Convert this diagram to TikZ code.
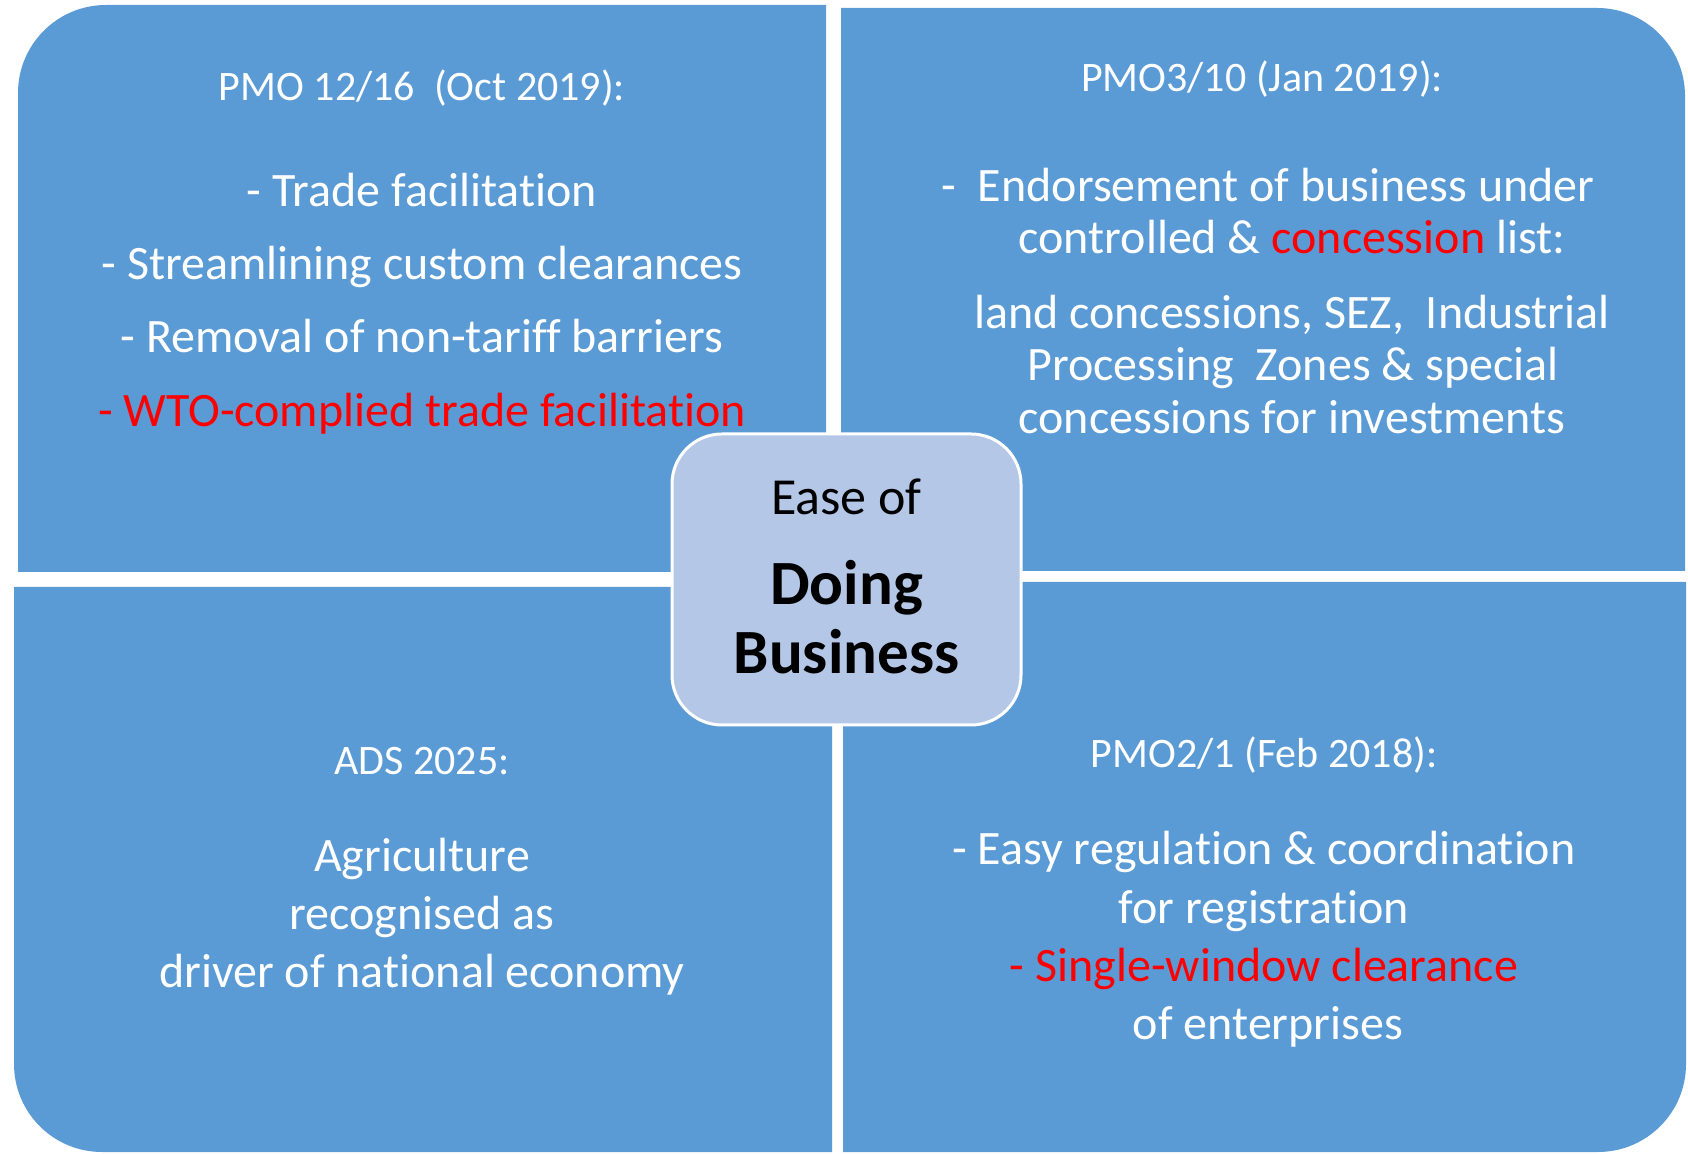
\documentclass[tikz,border=0pt]{standalone}
\usepackage{fontspec}
\setmainfont{Carlito}[RawFeature={-liga;-clig;-calt;-dlig}]
\definecolor{panel}{HTML}{5B9BD5}
\definecolor{hubfill}{HTML}{B4C7E7}
\definecolor{alert}{HTML}{FF0000}
\tikzset{
  panelfill/.style={fill=panel},
  heading/.style={anchor=base, inner sep=0pt, text=white, font=\fontsize{42}{50}\selectfont},
  body/.style={anchor=base, inner sep=0pt, text=white, font=\fontsize{48}{58}\selectfont},
  hubtext/.style={anchor=base, inner sep=0pt, text=black, font=\fontsize{52}{62}\selectfont},
  hubbold/.style={anchor=base, inner sep=0pt, text=black, font=\fontsize{63}{74}\selectfont\bfseries},
}
\begin{document}
\begin{tikzpicture}[x=1pt,y=1pt]
\useasboundingbox (0,0) rectangle (1688,1153);
\def\r{88pt}
% four panels, each with its outer corner rounded
\fill[panelfill] (826,581) -- (18,581) -- (18,1060) arc[start angle=180,end angle=90,radius=\r] -- (826,1148) -- cycle;
\fill[panelfill] (841,582) -- (841,1145) -- (1597,1145) arc[start angle=90,end angle=0,radius=\r] -- (1685,582) -- cycle;
\fill[panelfill] (14,566) -- (832,566) -- (832,1) -- (102,1) arc[start angle=270,end angle=180,radius=\r] -- cycle;
\fill[panelfill] (843,571) -- (1686,571) -- (1686,89) arc[start angle=0,end angle=-90,radius=\r] -- (843,1) -- cycle;

% top-left panel
\node[heading] (tlh) at (422,1052) {PMO 12/16\ \ (Oct 2019):};
\node[body] (tl1) at (422,946) {- Trade facilitation};
\node[body] (tl2) at (422,873) {- Streamlining custom clearances};
\node[body] (tl3) at (422,800) {- Removal of non-tariff barriers};
\node[body, text=alert] (tl4) at (422,726) {- WTO-complied trade facilitation};

% top-right panel
\node[heading] (trh) at (1262,1061) {PMO3/10 (Jan 2019):};
\node[body] (tr1) at (1268,951) {-\ \ Endorsement of business under};
\node[body] (tr2) at (1292,899) {controlled \& \textcolor{alert}{concession} list:};
\node[body] (tr3) at (1292,824) {land concessions, SEZ,\ \ Industrial};
\node[body] (tr4) at (1293,772) {Processing\ \ Zones \& special};
\node[body] (tr5) at (1292,719) {concessions for investments};

% bottom-left panel
\node[heading] (blh) at (422,378) {ADS 2025:};
\node[body] (bl1) at (422,281) {Agriculture};
\node[body] (bl2) at (422,223) {recognised as};
\node[body] (bl3) at (422,165) {driver of national economy};

% bottom-right panel
\node[heading] (brh) at (1264,385) {PMO2/1 (Feb 2018):};
\node[body] (br1) at (1264,288) {- Easy regulation \& coordination};
\node[body] (br2) at (1264,229) {for registration};
\node[body, text=alert] (br3) at (1264,171) {- Single-window clearance};
\node[body] (br4) at (1268,113) {of enterprises};

% central hub
\node[draw=white, line width=3pt, fill=hubfill, rounded corners=50pt,
      minimum width=349pt, minimum height=291pt, inner sep=0pt] (hub) at (846.5,573.5) {};
\node[hubtext] (hub1) at (846.5,638) {Ease of};
\node[hubbold] (hub2) at (846.5,548) {Doing};
\node[hubbold] (hub3) at (846.5,479) {Business};
\end{tikzpicture}
\end{document}
